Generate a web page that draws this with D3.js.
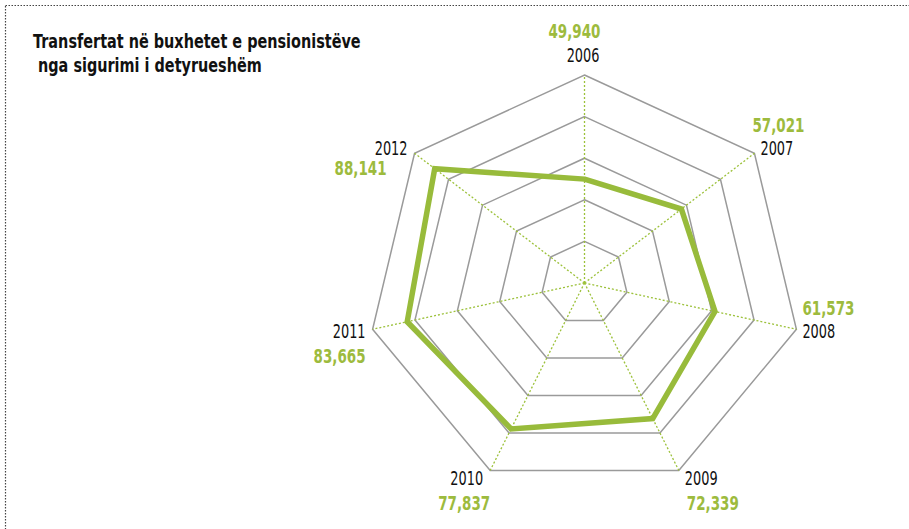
<html>
<script src='https://d3js.org/d3.v7.min.js'></script>
<style>
  body { margin: 0; background: #fff; }
  text { font-family: "DejaVu Sans", sans-serif; }
</style>
<body onload='init()'>
<svg width=909 height=529></svg>
<script>
// Data
const years = ['2006', '2007', '2008', '2009', '2010', '2011', '2012']
const values = [49940, 57021, 61573, 72339, 77837, 83665, 88141]
const ringTicks = [20000, 40000, 60000, 80000, 100000]
const titleLines = ['Transfertat në buxhetet e pensionistëve', ' nga sigurimi i detyrueshëm']

function init() {
    const svg = d3.select('svg')
    const cx = 584.5, cy = 283
    const R = 208
    const sx = 1.045   // the original is a little wider than tall
    const green = '#98bb3b'

    const rScale = d3.scaleLinear().domain([0, 100000]).range([0, R])
    const aScale = d3.scaleLinear().domain([0, years.length]).range([0, 2 * Math.PI])
    const fmt = d3.format(',')

    const px = (i, v) => cx + sx * rScale(v) * Math.sin(aScale(i))
    const py = (i, v) => cy - rScale(v) * Math.cos(aScale(i))

    // narrow text: no condensed face installed, so squeeze horizontally
    const narrowText = (g, x, y, k) => g.append('text')
        .attr('transform', `translate(${x},${y}) scale(${k},1)`)

    // dotted frame
    svg.append('rect')
    .attr('x', 5.5).attr('y', 5.5).attr('width', 1000).attr('height', 600)
    .attr('fill', 'none').attr('stroke', '#444').attr('stroke-width', 1.2)
    .attr('stroke-dasharray', '1.5,1.5')

    // title
    const tg = svg.append('g')
    titleLines.forEach((t, i) => {
        narrowText(tg, 33, 48 + i * 24, 0.76)
        .attr('xml:space', 'preserve')
        .attr('font-size', 19).attr('font-weight', 'bold').attr('fill', '#111')
        .text(t)
    })

    // rings
    const line = d3.line().curve(d3.curveLinearClosed)
    svg.append('g').selectAll('path')
    .data(ringTicks)
    .enter().append('path')
    .attr('d', t => line(years.map((y, i) => [px(i, t), py(i, t)])))
    .attr('fill', 'none').attr('stroke', '#9a9a9a').attr('stroke-width', 1.5)

    // spokes
    svg.append('g').selectAll('line')
    .data(years)
    .enter().append('line')
    .attr('x1', cx).attr('y1', cy)
    .attr('x2', (d, i) => px(i, 100000)).attr('y2', (d, i) => py(i, 100000))
    .attr('stroke', '#9cc13a').attr('stroke-width', 1.3).attr('stroke-dasharray', '2,2')

    // data line
    svg.append('path')
    .attr('d', line(values.map((v, i) => [px(i, v), py(i, v)])))
    .attr('fill', 'none').attr('stroke', green).attr('stroke-width', 5.5)
    .attr('stroke-linejoin', 'miter')

    // labels
    const lab = svg.append('g')
    years.forEach((y, i) => {
        const vx = px(i, 100000), vy = py(i, 100000)
        const c = Math.cos(aScale(i)), s = Math.sin(aScale(i))
        let anchor, yx, yy, vvx, vvy
        if (i === 0) {
            anchor = 'end'; yx = vx + 15; yy = vy - 13; vvx = yx + 1; vvy = yy - 24
        } else if (s > 0) {
            anchor = 'start'; yx = vx + 6; yy = vy + 7 - 8 * c
            vvx = yx - (i === 1 ? 8 : 0) + (i === 3 ? 2 : 0)
            vvy = c > -0.5 ? yy - 23 : yy + 25
        } else {
            anchor = 'end'; yx = vx - 7; yy = vy + 7 - 8 * c
            vvx = i === 6 ? yx - 21 : (i === 4 ? yx + 7 : yx)
            vvy = i === 6 ? yy + 20 : yy + 25
        }
        narrowText(lab, yx, yy, 0.68)
        .attr('text-anchor', anchor)
        .attr('font-size', 19).attr('fill', '#111')
        .text(y)
        narrowText(lab, vvx, vvy, 0.71)
        .attr('text-anchor', anchor)
        .attr('font-size', 19).attr('font-weight', 'bold').attr('fill', '#9dbb3d')
        .text(fmt(values[i]))
    })
}
</script>
</body>
</html>
